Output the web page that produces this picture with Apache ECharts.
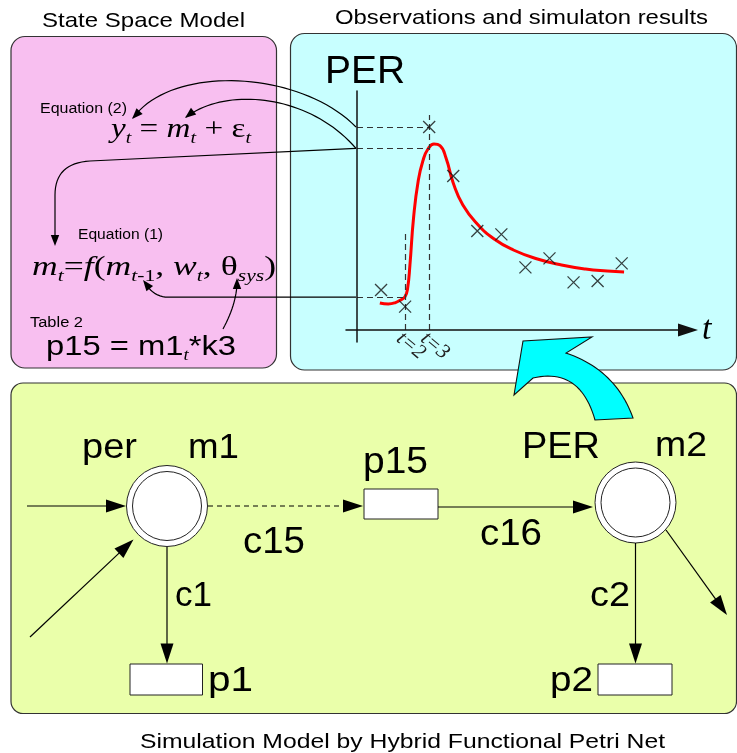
<!DOCTYPE html>
<html>
<head>
<meta charset="utf-8">
<script src="https://cdn.jsdelivr.net/npm/echarts@6/dist/echarts.min.js"></script>
<style>
  html, body { margin: 0; padding: 0; background: #fff; }
  #main { width: 737px; height: 753px; }
</style>
</head>
<body>
<div id="main"></div>
<script>
// Observed PER at each sampling time
const obsT = [1, 2, 3, 4, 5, 6, 7, 8, 9, 10, 11];
const obsPER = [2.0, 1.17, 10.15, 7.7, 4.95, 4.78, 3.13, 3.58, 2.38, 2.45, 3.33];

// Simulated PER trajectory from the Petri net model
const simT = [0.95, 1.3, 1.6, 1.85, 2.0, 2.1, 2.2, 2.35, 2.55, 2.75, 2.95, 3.2, 3.45, 3.7, 4.0, 4.4, 5.0, 5.7, 6.5, 7.5, 8.5, 9.5, 10.4, 11.1];
const simPER = [1.35, 1.3, 1.37, 1.53, 1.68, 2.05, 3.25, 5.6, 7.5, 8.5, 9.05, 9.3, 9.22, 8.6, 7.35, 6.25, 5.3, 4.55, 4.0, 3.55, 3.25, 3.05, 2.95, 2.9];

// Simulated values read off at the two marked times, and the heights of the time markers
const simAtT2 = 1.64;
const simAtT3 = 9.08;
const markerTimes = [2, 3];
const markerTops = [4.83, 10.75];

const SANS = 'Liberation Sans';
const SERIF = 'Liberation Serif';

const chart = echarts.init(document.getElementById('main'), null, { renderer: 'canvas' });

const guideStyle = { type: [6, 4], color: '#333', width: 1.2 };

chart.setOption({
  animation: false,
  backgroundColor: '#ffffff',
  grid: { left: 346, top: 91, width: 342, height: 251, containLabel: false, outerBoundsMode: 'none' },
  xAxis: {
    type: 'value', min: -0.457, max: 13.757, z: 5,
    axisLine: { show: true, onZero: true, symbol: ['none', 'triangle'], symbolSize: [13, 20], lineStyle: { color: '#111', width: 1.5 } },
    axisTick: { show: false },
    splitLine: { show: false },
    axisLabel: { show: false },
    name: 't', nameLocation: 'end', nameGap: 14,
    nameTextStyle: { fontFamily: SERIF, fontStyle: 'italic', fontSize: 34, color: '#000', padding: [0, 0, 10, 0] }
  },
  yAxis: {
    type: 'value', min: -0.6, max: 11.95, z: 5,
    axisLine: { show: true, onZero: true, lineStyle: { color: '#111', width: 1.5 } },
    axisTick: { show: false },
    splitLine: { show: false },
    axisLabel: { show: false }
  },
  series: [
    {
      name: 'guides', type: 'line', data: [], silent: true,
      markLine: {
        silent: true, symbol: ['none', 'none'], label: { show: false }, lineStyle: guideStyle,
        emphasis: { disabled: true },
        data: [
          [{ coord: [0, obsPER[2]] }, { coord: [markerTimes[1], obsPER[2]] }],
          [{ coord: [0, simAtT3] }, { coord: [markerTimes[1], simAtT3] }],
          [{ coord: [0, simAtT2] }, { coord: [markerTimes[0], simAtT2] }],
          [{ coord: [markerTimes[0], 0] }, { coord: [markerTimes[0], markerTops[0]] }],
          [{ coord: [markerTimes[1], 0] }, { coord: [markerTimes[1], markerTops[1]] }]
        ]
      }
    },
    {
      name: 'simulation', type: 'line', z: 4,
      data: simT.map((t, i) => [t, simPER[i]]),
      smooth: 0.5, showSymbol: false,
      lineStyle: { color: '#ff0000', width: 3 }
    },
    {
      name: 'observation', type: 'scatter', z: 6,
      data: obsT.map((t, i) => [t, obsPER[i]]),
      symbol: 'path://M0,0L10,10M10,0L0,10', symbolSize: 12,
      itemStyle: { color: 'rgba(0,0,0,0)', borderColor: '#111', borderWidth: 1.3 }
    }
  ]
});

// ---- text helpers: lay out runs of text and fit them to a horizontal span ----
const mctx = document.createElement('canvas').getContext('2d');
function fontCss(p) { return (p.it ? 'italic ' : '') + p.size + 'px "' + p.fam + '"'; }
function runText(x0, x1, baseline, parts, z) {
  let x = 0;
  const kids = [];
  parts.forEach(p => {
    mctx.font = fontCss(p);
    kids.push({
      type: 'text', x: x, y: baseline + (p.dy || 0) - 0.34 * p.size,
      style: {
        text: p.t, fontSize: p.size, fontFamily: p.fam, fontStyle: p.it ? 'italic' : 'normal',
        fill: '#000', align: 'left', verticalAlign: 'middle', textAlign: 'left', textVerticalAlign: 'middle'
      }
    });
    x += mctx.measureText(p.t).width;
  });
  return { type: 'group', x: x0, y: 0, scaleX: (x1 - x0) / x, z: z || 10, children: kids };
}
function label(text, x0, x1, baseline, size, fam, it) {
  return runText(x0, x1, baseline, [{ t: text, size: size, fam: fam || SANS, it: it }]);
}

// ---- path sampling (the graphic component has no free-form path element) ----
function quad(p0, c, p1, n) {
  const out = [];
  for (let i = 1; i <= n; i++) {
    const t = i / n, a = (1 - t) * (1 - t), b = 2 * (1 - t) * t, d = t * t;
    out.push([a * p0[0] + b * c[0] + d * p1[0], a * p0[1] + b * c[1] + d * p1[1]]);
  }
  return out;
}
function cubic(p0, c1, c2, p1, n) {
  const out = [];
  for (let i = 1; i <= n; i++) {
    const t = i / n, u = 1 - t;
    const a = u * u * u, b = 3 * u * u * t, c = 3 * u * t * t, d = t * t * t;
    out.push([a * p0[0] + b * c1[0] + c * c2[0] + d * p1[0], a * p0[1] + b * c1[1] + c * c2[1] + d * p1[1]]);
  }
  return out;
}

// ---- drawing helpers for arrows ----
function head(tx, ty, dx, dy, len, half, z) {
  const d = Math.hypot(dx, dy), ux = dx / d, uy = dy / d;
  const bx = tx - ux * len, by = ty - uy * len;
  return {
    type: 'polygon', z: z || 8,
    shape: { points: [[tx, ty], [bx - uy * half, by + ux * half], [bx + uy * half, by - ux * half]] },
    style: { fill: '#000' }
  };
}
function arrow(x1, y1, x2, y2, dashed) {
  const d = Math.hypot(x2 - x1, y2 - y1), len = 20;
  const ex = x2 - (x2 - x1) / d * (len - 2), ey = y2 - (y2 - y1) / d * (len - 2);
  return [
    { type: 'line', z: 7, shape: { x1: x1, y1: y1, x2: ex, y2: ey },
      style: { stroke: '#000', lineWidth: 1.2, lineDash: dashed ? [5, 4] : null } },
    head(x2, y2, x2 - x1, y2 - y1, len, 6.5)
  ];
}
function connector(points, tip, from) {
  return [
    { type: 'polyline', z: 7, shape: { points: points }, style: { fill: null, stroke: '#000', lineWidth: 1.2 } },
    head(tip[0], tip[1], tip[0] - from[0], tip[1] - from[1], 11, 4.2)
  ];
}
function place(cx, cy) {
  return [
    { type: 'circle', z: 6, shape: { cx: cx, cy: cy, r: 40.5 }, style: { fill: '#fff', stroke: '#222', lineWidth: 1 } },
    { type: 'circle', z: 6, shape: { cx: cx, cy: cy, r: 34.5 }, style: { fill: '#fff', stroke: '#222', lineWidth: 1 } }
  ];
}
function transition(x, y, w, h) {
  return { type: 'rect', z: 6, shape: { x: x, y: y, width: w, height: h }, style: { fill: '#fff', stroke: '#222', lineWidth: 1 } };
}

// pixel anchors of the guide levels on the PER axis
const px = v => chart.convertToPixel({ gridIndex: 0 }, v);
const axisX = px([0, 0])[0] - 1;
const axisY = px([0, 0])[1];
const yObs3 = px([0, obsPER[2]])[1];
const ySim3 = px([0, simAtT3])[1];
const ySim2 = px([0, simAtT2])[1];

// slanted time labels hanging below the marked times
const timeLabels = markerTimes.map(t => ({
  type: 'text', z: 10, x: px([t, 0])[0] - 6, y: axisY + 6, rotation: -40 * Math.PI / 180,
  style: {
    text: 't=' + t, fontSize: 21, fontFamily: SERIF, fontStyle: 'italic', fill: '#222',
    align: 'left', verticalAlign: 'middle', textAlign: 'left', textVerticalAlign: 'middle'
  }
}));

// connector geometry
const connA = [[axisX, yObs3], ...cubic([axisX, yObs3], [300, 70], [172, 64], [133, 118], 40)];
const connB = [[axisX, ySim3], ...cubic([axisX, ySim3], [310, 95], [228, 86], [186, 117], 40)];
const connC = [[axisX, ySim3], [90, 161], ...quad([90, 161], [55, 163], [55, 195], 16), [55, 240]];
const connD = [[axisX, ySim2], [168, ySim2], ...quad([168, ySim2], [154, ySim2], [145, 283], 10)];
const connE = [[223, 329], ...quad([223, 329], [236, 305], [237, 284], 14)];

// feedback arrow outline
const bigArrow = [[595, 420], ...quad([595, 420], [580, 367], [533, 378], 24),
  [514, 395], [523, 341], [592, 337], [566, 353], ...quad([566, 353], [616, 370], [633, 418], 24)];

const S = 28, s = 17, sd = 5;
const elements = [
  // panels
  { type: 'rect', z: -10, shape: { x: 11, y: 36.5, width: 265.5, height: 331.5, r: 14 }, style: { fill: '#f8bff0', stroke: '#333', lineWidth: 1.2 } },
  { type: 'rect', z: -10, shape: { x: 290.5, y: 33.5, width: 446, height: 336.5, r: 14 }, style: { fill: '#c8ffff', stroke: '#333', lineWidth: 1.2 } },
  { type: 'rect', z: -10, shape: { x: 11, y: 383, width: 725.5, height: 330.5, r: 12 }, style: { fill: '#eaffaa', stroke: '#333', lineWidth: 1.2 } },

  // titles
  label('State Space Model', 42, 245, 28.5, 21),
  label('Observations and simulaton results', 335, 708, 25, 21),
  label('Simulation Model by Hybrid Functional Petri Net', 140, 665, 749, 21),
  label('PER', 325, 405, 86, 39),
  ...timeLabels,

  // state space model equations
  label('Equation (2)', 40, 127, 114, 14),
  runText(111, 251, 139, [
    { t: 'y', size: S, fam: SERIF, it: true }, { t: 't', size: s, fam: SERIF, it: true, dy: sd },
    { t: ' = ', size: S, fam: SERIF }, { t: 'm', size: S, fam: SERIF, it: true },
    { t: 't', size: s, fam: SERIF, it: true, dy: sd }, { t: ' + ', size: S, fam: SERIF },
    { t: 'ε', size: S, fam: SERIF }, { t: 't', size: s, fam: SERIF, it: true, dy: sd }
  ]),
  label('Equation (1)', 78, 163, 240, 14),
  runText(32, 276, 277, [
    { t: 'm', size: S, fam: SERIF, it: true }, { t: 't', size: s, fam: SERIF, it: true, dy: sd },
    { t: '=', size: S, fam: SERIF }, { t: 'f', size: S, fam: SERIF, it: true }, { t: '(', size: S, fam: SERIF },
    { t: 'm', size: S, fam: SERIF, it: true }, { t: 't', size: s, fam: SERIF, it: true, dy: sd },
    { t: '-1', size: s, fam: SERIF, dy: sd }, { t: ', ', size: S, fam: SERIF },
    { t: 'w', size: S, fam: SERIF, it: true }, { t: 't', size: s, fam: SERIF, it: true, dy: sd },
    { t: ', ', size: S, fam: SERIF }, { t: 'θ', size: S, fam: SERIF },
    { t: 'sys', size: s, fam: SERIF, it: true, dy: sd }, { t: ')', size: S, fam: SERIF }
  ]),
  label('Table 2', 30, 83, 328, 14),
  runText(46, 236, 357, [
    { t: 'p15 = m1', size: 28, fam: SANS }, { t: 't', size: 16, fam: SERIF, it: true, dy: 4 },
    { t: '*k3', size: 28, fam: SANS }
  ]),

  // connectors between the observation axis and the equations
  ...connector(connA, [132, 119], [150, 100]),
  ...connector(connB, [185, 118], [200, 106]),
  ...connector(connC, [55, 246], [55, 230]),
  ...connector(connD, [143, 280], [150, 289]),
  ...connector(connE, [237, 278], [237, 290]),

  // Petri net: places, transitions, arcs
  ...place(167, 506),
  ...place(635.5, 502.5),
  transition(364, 489, 74, 30),
  transition(130, 664, 72.5, 31),
  transition(598, 664, 74, 31),
  ...arrow(27, 506, 126, 506),
  ...arrow(30, 637, 133.5, 539.5),
  ...arrow(208, 506, 363, 506, true),
  ...arrow(167, 547, 167, 663.5),
  ...arrow(438, 507, 593, 507),
  ...arrow(635.5, 543, 635.5, 663.5),
  ...arrow(666, 530, 727, 615),

  // Petri net labels
  label('per', 82, 137, 460, 35),
  label('m1', 188, 239, 460, 35),
  label('p15', 363, 428, 475, 36),
  label('c15', 243, 305, 555, 37),
  label('c16', 480, 542, 547, 37),
  label('c1', 175, 212, 608, 35),
  label('c2', 590, 630, 608, 35),
  label('p1', 208, 253, 693, 35),
  label('p2', 550, 593, 693, 35),
  label('PER', 522, 600, 460, 37),
  label('m2', 655, 707, 458, 35),

  // feedback arrow from the simulation model to the results
  { type: 'polygon', z: 20, shape: { points: bigArrow }, style: { fill: '#00ffff', stroke: '#111', lineWidth: 1.1 } }
];

chart.setOption({ graphic: { elements: elements } });
</script>
</body>
</html>
